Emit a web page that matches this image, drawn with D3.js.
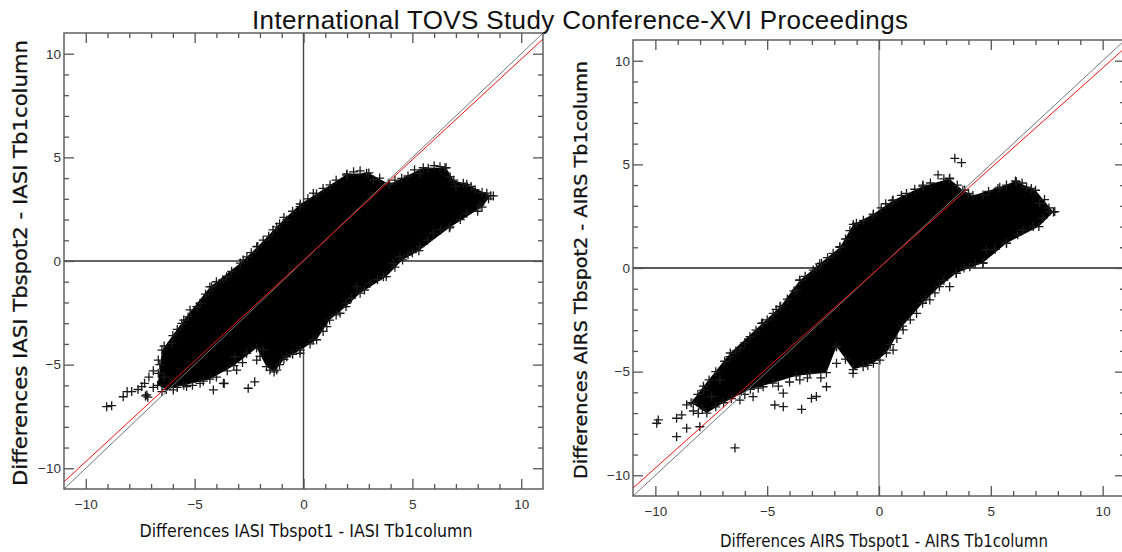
<!DOCTYPE html>
<html>
<head>
<meta charset="utf-8">
<script src="https://cdn.jsdelivr.net/npm/d3@7"></script>
<style>
  body { margin: 0; background: #fff; }
  text { font-family: "DejaVu Sans", sans-serif; }
</style>
</head>
<body>
<svg id="chart"></svg>
<script>
const pageTitle = "International TOVS Study Conference-XVI Proceedings";
const majorTicks = [-10, -5, 0, 5, 10];
const minorTicks = [-9, -8, -7, -6, -4, -3, -2, -1, 1, 2, 3, 4, 6, 7, 8, 9];

// IASI panel: solid cloud outline + individual "+" points around it
const iasiXTitle = "Differences IASI Tbspot1 - IASI Tb1column";
const iasiYTitle = "Differences IASI Tbspot2 - IASI Tb1column";
const iasiCore = [
  [-6.7, -6.0], [-6.5, -4.3], [-5.5, -2.85], [-4.3, -1.25], [-2.9, -0.1],
  [-2.1, 0.7], [-1.1, 1.8], [-0.15, 2.75], [0.6, 3.25], [2.0, 4.2],
  [3.0, 4.25], [3.95, 3.7], [5.5, 4.5], [6.55, 4.5], [6.9, 3.9],
  [7.5, 3.7], [8.6, 3.15], [8.2, 2.6], [6.7, 1.6], [5.3, 0.5],
  [4.55, 0.05], [3.8, -0.75], [2.6, -1.55], [1.95, -2.2], [1.2, -2.85],
  [0.6, -3.8], [-0.15, -4.3], [-0.9, -4.75], [-1.35, -5.35], [-1.7, -5.1],
  [-2.15, -4.2], [-3.2, -5.05], [-4.3, -5.7], [-5.5, -6.0], [-6.3, -6.2]
];
const iasiPoints = [
  [-9.04, -7.03], [-8.81, -6.98], [-8.28, -6.55], [-7.89, -6.3], [-7.43, -6.06],
  [-7.2, -6.46], [-6.67, -5.42], [-6.67, -4.78], [-6.05, -3.97], [-5.59, -3.01],
  [-5.21, -2.36], [-4.75, -2.04], [-4.22, -1.24], [-3.53, -0.76], [-2.77, 0.05],
  [-2.15, 0.69], [-1.85, 1.01], [-1.23, 1.65], [-0.77, 1.98], [-0.16, 2.62],
  [0.45, 3.27], [1.22, 3.67], [1.98, 4.15], [2.9, 4.23], [3.21, 3.91],
  [3.9, 3.75], [4.51, 3.99], [5.35, 4.23], [5.73, 4.47], [6.27, 4.55],
  [6.73, 4.07], [7.34, 3.75], [7.88, 3.43], [8.42, 3.27], [8.72, 3.14],
  [8.11, 2.7], [7.5, 2.3], [6.73, 1.65], [5.96, 1.34], [5.35, 0.69],
  [4.43, 0.21], [4.12, -0.11], [3.67, -0.76], [3.05, -1.08], [2.44, -1.24],
  [1.98, -2.04], [1.68, -2.52], [1.07, -3.17], [0.45, -3.81], [-0.16, -4.45],
  [-0.77, -4.62], [-1.23, -5.26], [-1.54, -5.26], [-1.85, -4.29], [-2.15, -4.78],
  [-2.54, -6.14], [-3.07, -5.26], [-3.68, -5.9], [-4.14, -6.22], [-4.75, -5.9],
  [-5.37, -6.06], [-5.98, -6.22], [-3.15, -4.62], [-2.61, -4.45], [-2.24, -5.83],
  [-3.64, -5.91], [-7.26, -6.51], [-7.15, -6.57], [-8.1, -6.3],
  // fringe along the cloud edge
  [-6.4, -4.1], [-6.0, -3.6], [-5.8, -3.3], [-5.3, -2.7], [-4.9, -2.2],
  [-4.5, -1.6], [-4.0, -1.0], [-3.7, -0.9], [-3.3, -0.5], [-2.6, 0.2],
  [-2.4, 0.4], [-1.6, 1.2], [-1.4, 1.5], [-0.9, 2.1], [-0.5, 2.4],
  [0.2, 3.0], [0.9, 3.5], [1.5, 3.9], [2.3, 4.3], [2.6, 4.35],
  [3.5, 4.0], [4.2, 3.9], [4.8, 4.1], [5.1, 4.4], [6.0, 4.6],
  [6.5, 4.5], [7.0, 3.6], [7.7, 3.6], [8.2, 3.3], [8.5, 3.0],
  [8.0, 2.4], [7.2, 2.0], [6.3, 1.5], [5.7, 1.0], [5.0, 0.4],
  [4.8, 0.3], [4.2, -0.3], [3.4, -0.9], [2.8, -1.4], [2.2, -1.8],
  [1.5, -2.6], [0.9, -3.4], [0.3, -4.0], [-0.5, -4.5], [-1.1, -5.0],
  [-2.0, -4.6], [-2.8, -4.9], [-3.5, -5.3], [-4.0, -5.6], [-4.6, -5.8],
  [-5.1, -6.0], [-5.8, -6.1], [-6.5, -6.3], [-6.9, -6.1], [-7.6, -6.2],
  [-6.6, -5.0], [-6.4, -5.6], [-7.1, -5.6], [-7.3, -5.9], [-6.9, -5.3]
];
const iasiFit = [0.971, 0.03]; // slope, intercept of the red line

// AIRS panel
const airsXTitle = "Differences AIRS Tbspot1 - AIRS Tb1column";
const airsYTitle = "Differences AIRS Tbspot2 - AIRS Tb1column";
const airsCore = [
  [-8.4, -6.5], [-7.85, -5.7], [-6.65, -4.1], [-5.2, -2.65], [-4.4, -1.85],
  [-3.55, -0.6], [-2.65, 0.2], [-1.75, 1.0], [-1.15, 2.1], [-0.25, 2.6],
  [0.6, 3.25], [1.95, 3.95], [3.15, 4.3], [3.75, 3.75], [4.2, 3.5],
  [5.4, 3.9], [6.1, 4.2], [7.0, 3.75], [7.8, 2.7], [7.15, 2.0],
  [5.7, 1.2], [4.65, 0.25], [3.45, -0.25], [2.7, -0.9], [1.95, -1.7],
  [1.05, -2.8], [0.33, -4.1], [-0.25, -4.6], [-1.15, -4.9], [-1.9, -3.8],
  [-2.35, -5.05], [-3.7, -5.2], [-4.75, -5.55], [-5.75, -5.85], [-6.95, -6.5],
  [-7.7, -7.0]
];
const airsPoints = [
  [-9.94, -7.49], [-9.87, -7.33], [-9.05, -7.25], [-8.82, -7.09], [-8.6, -7.73],
  [-9.05, -8.14], [-8.31, -6.53], [-8.08, -7.01], [-8.01, -7.66], [-7.86, -5.89],
  [-7.48, -6.21], [-7.11, -5.4], [-6.67, -4.28], [-6.22, -3.87], [-5.77, -3.31],
  [-5.25, -2.67], [-4.73, -2.19], [-4.43, -1.87], [-3.69, -1.06], [-3.54, -0.58],
  [-2.94, -0.1], [-2.57, 0.23], [-2.05, 0.71], [-1.75, 1.03], [-1.01, 2.16],
  [-0.26, 2.56], [0.63, 3.28], [1.23, 3.6], [1.97, 4.0], [2.64, 4.49],
  [3.16, 4.33], [3.39, 5.29], [3.69, 5.08], [3.83, 3.76], [4.65, 3.52],
  [5.32, 3.84], [6.14, 4.16], [6.81, 3.84], [7.18, 3.12], [7.63, 2.72],
  [7.86, 2.72], [7.33, 2.4], [6.44, 1.83], [5.7, 1.19], [4.8, 0.87],
  [4.65, 0.23], [4.06, 0.06], [3.46, -0.26], [3.16, -0.9], [2.27, -1.54],
  [1.68, -2.19], [1.08, -2.99], [0.63, -3.96], [0.04, -4.44], [-0.71, -4.76],
  [-1.16, -5.08], [-1.9, -3.8], [-2.35, -5.73], [-3.09, -5.08], [-3.54, -5.4],
  [-3.46, -6.82], [-3.02, -6.29], [-2.8, -6.2], [-4.28, -6.04], [-4.66, -6.61],
  [-4.28, -6.69], [-5.18, -5.73], [-5.63, -6.21], [-6.22, -6.37], [-6.44, -8.68],
  // fringe along the cloud edge
  [-8.1, -6.1], [-7.6, -5.4], [-7.3, -5.0], [-6.9, -4.5], [-6.4, -4.0],
  [-6.0, -3.6], [-5.5, -3.0], [-5.0, -2.5], [-4.6, -2.0], [-4.1, -1.5],
  [-3.8, -1.1], [-3.3, -0.4], [-2.8, 0.0], [-2.3, 0.5], [-1.5, 1.4],
  [-1.3, 1.8], [-0.7, 2.3], [0.1, 2.9], [0.3, 3.1], [1.0, 3.5],
  [1.6, 3.8], [2.3, 4.1], [2.9, 4.3], [3.5, 4.0], [4.0, 3.6],
  [4.9, 3.7], [5.7, 4.0], [6.4, 4.1], [6.6, 3.9], [7.4, 3.3],
  [7.6, 2.9], [6.9, 2.0], [6.2, 1.6], [5.2, 0.9], [4.3, 0.2],
  [3.8, 0.0], [2.9, -0.6], [2.5, -1.2], [2.1, -1.5], [1.4, -2.5],
  [0.8, -3.4], [0.5, -3.7], [-0.5, -4.7], [-1.5, -4.4], [-1.9, -4.6],
  [-2.6, -5.3], [-3.2, -5.3], [-4.0, -5.5], [-4.5, -5.7], [-5.4, -5.8],
  [-6.0, -6.1], [-6.6, -6.3], [-7.3, -6.7], [-7.9, -6.8], [-8.3, -6.9],
  [-8.6, -6.6]
];
const airsFit = [0.965, 0.0];

const width = 1122, height = 552;
const svg = d3.select("#chart").attr("width", width).attr("height", height);

svg.append("text")
  .attr("x", 580).attr("y", 29)
  .attr("text-anchor", "middle")
  .style("font-family", "'Liberation Sans', Arial, sans-serif")
  .style("font-size", "26px")
  .attr("textLength", 656)
  .attr("fill", "#111")
  .text(pageTitle);

function drawPanel(p) {
  const x = d3.scaleLinear().domain([-11, 11]).range([p.left, p.right]);
  const y = d3.scaleLinear().domain([-11, 11]).range([p.bottom, p.top]);
  const g = svg.append("g");
  const clipId = "clip-" + p.id;

  g.append("clipPath").attr("id", clipId)
    .append("rect")
    .attr("x", p.left).attr("y", p.top)
    .attr("width", p.right - p.left).attr("height", p.bottom - p.top);

  const plot = g.append("g").attr("clip-path", `url(#${clipId})`);

  // zero lines
  plot.append("line")
    .attr("x1", x(0)).attr("x2", x(0)).attr("y1", p.top).attr("y2", p.bottom)
    .attr("stroke", p.vColor).attr("stroke-width", 1.4);
  plot.append("line")
    .attr("x1", p.left).attr("x2", p.right).attr("y1", y(0)).attr("y2", y(0))
    .attr("stroke", p.hColor).attr("stroke-width", 1.4);

  // dense cloud
  plot.append("path")
    .datum(p.core)
    .attr("d", d3.line().x(d => x(d[0])).y(d => y(d[1])).curve(d3.curveLinearClosed))
    .attr("fill", "#000");

  // "+" markers
  const cross = "M-4.5,0H4.5M0,-4.5V4.5";
  plot.append("g")
    .selectAll("path")
    .data(p.points.concat(p.core))
    .enter().append("path")
      .attr("transform", d => `translate(${x(d[0])},${y(d[1])})`)
      .attr("d", cross)
      .attr("stroke", "#1a1a1a")
      .attr("stroke-width", 1.3)
      .attr("fill", "none");

  // 1:1 line and fitted line
  plot.append("line")
    .attr("x1", x(-11)).attr("y1", y(-11)).attr("x2", x(11)).attr("y2", y(11))
    .attr("stroke", "#777").attr("stroke-width", 1);
  plot.append("line")
    .attr("x1", x(-11)).attr("y1", y(p.fit[0] * -11 + p.fit[1]))
    .attr("x2", x(11)).attr("y2", y(p.fit[0] * 11 + p.fit[1]))
    .attr("stroke", "#ee1111").attr("stroke-width", 1);

  // frame
  g.append("rect")
    .attr("x", p.left).attr("y", p.top)
    .attr("width", p.right - p.left).attr("height", p.bottom - p.top)
    .attr("fill", "none").attr("stroke", "#555").attr("stroke-width", 1.4);

  // ticks on all four sides, pointing inward
  const sides = [
    ["bottom", d3.axisBottom(x), `translate(0,${p.bottom})`, true],
    ["top", d3.axisTop(x), `translate(0,${p.top})`, false],
    ["left", d3.axisLeft(y), `translate(${p.left},0)`, true],
    ["right", d3.axisRight(y), `translate(${p.right},0)`, false]
  ];
  sides.forEach(([side, axis, tr, labelled]) => {
    const minor = g.append("g").attr("transform", tr)
      .call(axis.tickValues(minorTicks).tickSize(-5).tickSizeOuter(0).tickFormat(""));
    minor.select(".domain").remove();
    minor.selectAll("line").attr("stroke", "#555").attr("stroke-width", 1.3);

    const major = g.append("g").attr("transform", tr)
      .call(axis.tickValues(majorTicks).tickSize(-10).tickSizeOuter(0)
        .tickPadding(labelled ? 3 : 0)
        .tickFormat(labelled ? d3.format("d") : ""));
    major.select(".domain").remove();
    major.selectAll("line").attr("stroke", "#555").attr("stroke-width", 1.3);
    major.selectAll("text")
      .style("font-family", "'Liberation Sans', sans-serif")
      .style("font-size", "13.5px")
      .attr("fill", "#333");
    if (side === "bottom") major.selectAll("text").attr("y", 10);
  });

  // axis titles
  g.append("text")
    .attr("x", p.xTitlePos[0]).attr("y", p.xTitlePos[1])
    .attr("text-anchor", "middle")
    .style("font-size", p.xTitleSize + "px")
    .attr("textLength", p.xTitleLen).attr("lengthAdjust", "spacingAndGlyphs")
    .attr("fill", "#111")
    .text(p.xTitle);
  g.append("text")
    .attr("transform", `translate(${p.yTitlePos[0]},${p.yTitlePos[1]}) rotate(-90)`)
    .attr("text-anchor", "middle")
    .style("font-size", p.yTitleSize + "px")
    .attr("textLength", p.yTitleLen).attr("lengthAdjust", "spacingAndGlyphs")
    .attr("fill", "#111")
    .attr("stroke", "#111").attr("stroke-width", 0.3)
    .text(p.yTitle);
}

drawPanel({
  id: "iasi", left: 64, right: 543, top: 33, bottom: 489,
  core: iasiCore, points: iasiPoints, fit: iasiFit,
  vColor: "#444", hColor: "#333",
  xTitle: iasiXTitle, xTitlePos: [306, 537], xTitleSize: 18, xTitleLen: 333,
  yTitle: iasiYTitle, yTitlePos: [27, 263], yTitleSize: 20, yTitleLen: 446
});

drawPanel({
  id: "airs", left: 633, right: 1125, top: 40, bottom: 496,
  core: airsCore, points: airsPoints, fit: airsFit,
  vColor: "#888", hColor: "#222",
  xTitle: airsXTitle, xTitlePos: [884, 547], xTitleSize: 18, xTitleLen: 328,
  yTitle: airsYTitle, yTitlePos: [587, 270], yTitleSize: 18, yTitleLen: 418
});
</script>
</body>
</html>
